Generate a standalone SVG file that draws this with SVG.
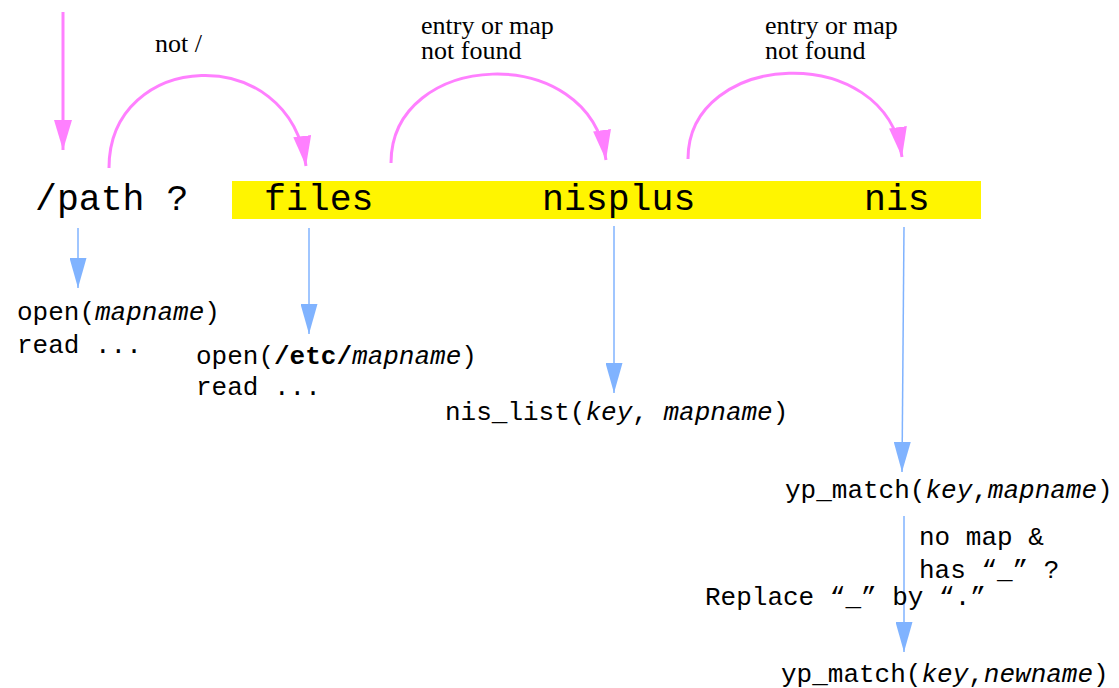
<svg xmlns="http://www.w3.org/2000/svg" width="1119" height="688" viewBox="0 0 1119 688">
<style>
.mono{font-family:"Liberation Mono","DejaVu Sans Mono",monospace;fill:#000}
.big{font-size:36.5px}
.sm{font-size:26px}
.serif{font-family:"Liberation Serif","DejaVu Serif",serif;font-size:26px;fill:#000}
.pink{fill:none;stroke:#ff80ff;stroke-width:3}
.blue{fill:none;stroke:#80b3ff;stroke-width:1.5}
</style>
<defs>
<marker id="ph" markerUnits="userSpaceOnUse" markerWidth="30" markerHeight="18" refX="30" refY="9" orient="auto" viewBox="0 0 30 18">
<path d="M0,0 L30,9 L0,18 z" fill="#ff80ff"/>
</marker>
<marker id="bh" markerUnits="userSpaceOnUse" markerWidth="30" markerHeight="17" refX="30" refY="8.5" orient="auto" viewBox="0 0 30 17">
<path d="M0,0 L30,8.5 L0,17 z" fill="#80b3ff"/>
</marker>
</defs>
<rect x="232" y="181" width="749" height="38" fill="#fff500"/>
<g id="connectors">
<path class="pink" d="M63,12 L63,150" marker-end="url(#ph)"/>
<path class="pink" d="M109,168 C109,50 290,40 306,166" marker-end="url(#ph)"/>
<path class="pink" d="M391,163 C391,50 590,40 606,160" marker-end="url(#ph)"/>
<path class="pink" d="M688,159 C688,50 886,40 902,157" marker-end="url(#ph)"/>
<path class="blue" d="M78,228 L78,288" marker-end="url(#bh)"/>
<path class="blue" d="M309,228 L309,334" marker-end="url(#bh)"/>
<path class="blue" d="M614,226 L614,393" marker-end="url(#bh)"/>
<path class="blue" d="M904,227 L902,472" marker-end="url(#bh)"/>
<path class="blue" d="M904,516 L904,652" marker-end="url(#bh)"/>
</g>
<g id="label-not">
<text class="serif" x="155" y="52">not /</text>
</g>
<g id="label-entry1">
<text class="serif" x="421" y="34">entry or map<tspan x="421" dy="25">not found</tspan></text>
</g>
<g id="label-entry2">
<text class="serif" x="765" y="34">entry or map<tspan x="765" dy="25">not found</tspan></text>
</g>
<g id="path-node">
<text class="mono big" x="35" y="210">/path ?</text>
</g>
<g id="files-node">
<text class="mono big" x="264" y="210">files</text>
</g>
<g id="nisplus-node">
<text class="mono big" x="542" y="210">nisplus</text>
</g>
<g id="nis-node">
<text class="mono big" x="864" y="210">nis</text>
</g>
<g id="open-mapname">
<text class="mono sm" x="17" y="320">open(<tspan font-style="italic">mapname</tspan>)</text>
<text class="mono sm" x="17" y="353">read ...</text>
</g>
<g id="open-etc">
<text class="mono sm" x="196" y="364">open(<tspan font-weight="bold">/etc/</tspan><tspan font-style="italic">mapname</tspan>)</text>
<text class="mono sm" x="196" y="395">read ...</text>
</g>
<g id="nis-list">
<text class="mono sm" x="445" y="420">nis_list(<tspan font-style="italic">key</tspan>, <tspan font-style="italic">mapname</tspan>)</text>
</g>
<g id="yp-match1">
<text class="mono sm" x="785" y="498">yp_match(<tspan font-style="italic">key</tspan>,<tspan font-style="italic">mapname</tspan>)</text>
</g>
<g id="cond">
<text class="mono sm" x="919" y="545">no map &amp;</text>
<text class="mono sm" x="919" y="578">has “_” ?</text>
<text class="mono sm" x="705" y="605">Replace “_” by “.”</text>
</g>
<g id="yp-match2">
<text class="mono sm" x="781" y="682">yp_match(<tspan font-style="italic">key</tspan>,<tspan font-style="italic">newname</tspan>)</text>
</g>
</svg>
